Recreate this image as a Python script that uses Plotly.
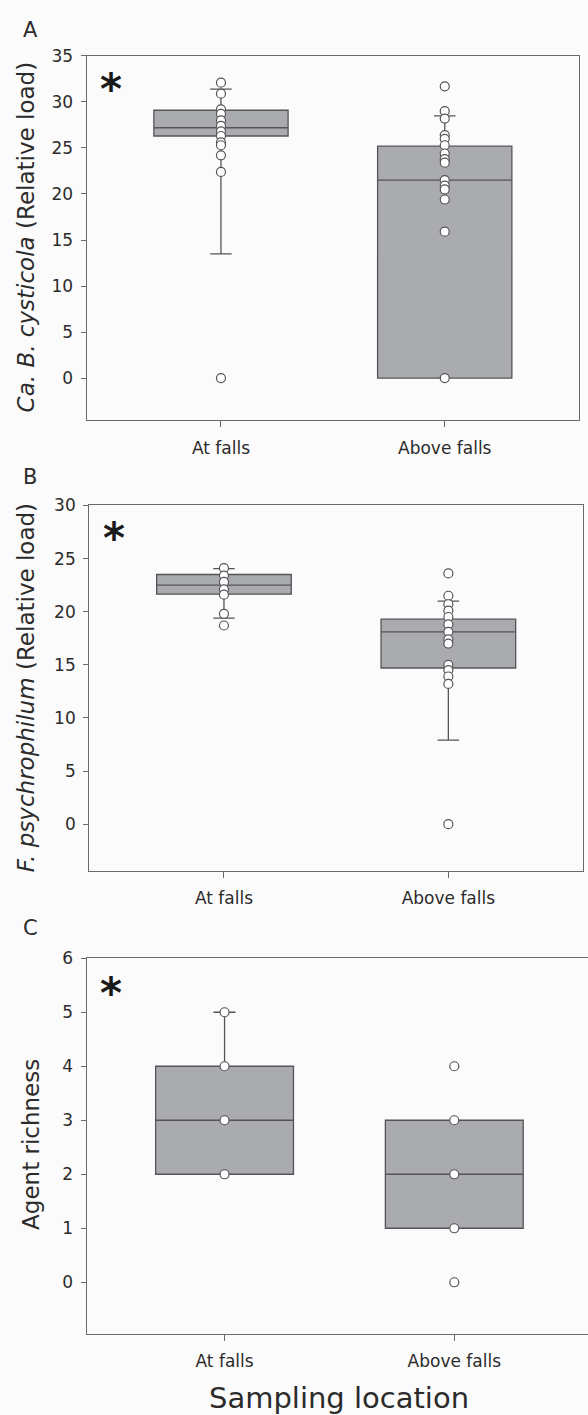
import plotly.graph_objects as go

# ---------------- data ----------------
categories = ["At falls", "Above falls"]

# Panel A: Ca. B. cysticola (relative load)
a_q1 = [26.3, 0.0]
a_median = [27.2, 21.5]
a_q3 = [29.1, 25.2]
a_lower = [13.5, 0.0]
a_upper = [31.4, 28.5]
a_pts_at = [32.1, 30.9, 29.2, 28.7, 28.0, 27.4, 26.8, 26.3, 25.6, 25.3, 24.2, 22.4, 0.0]
a_pts_above = [31.7, 29.0, 28.2, 26.4, 26.0, 25.3, 24.4, 23.8, 23.4, 21.5, 20.9,
               20.5, 19.4, 15.9, 0.0]
a_ticks = [0, 5, 10, 15, 20, 25, 30, 35]

# Panel B: F. psychrophilum (relative load)
b_q1 = [21.65, 14.7]
b_median = [22.5, 18.1]
b_q3 = [23.5, 19.3]
b_lower = [19.4, 7.9]
b_upper = [24.05, 21.0]
b_pts_at = [24.1, 23.4, 22.8, 22.1, 21.6, 19.8, 18.7]
b_pts_above = [23.6, 21.5, 20.7, 20.1, 19.5, 18.8, 18.1, 17.4, 17.0, 15.0, 14.5,
               13.9, 13.2, 0.0]
b_ticks = [0, 5, 10, 15, 20, 25, 30]

# Panel C: agent richness
c_q1 = [2, 1]
c_median = [3, 2]
c_q3 = [4, 3]
c_lower = [2, 1]
c_upper = [5, 3]
c_pts_at = [5, 4, 3, 2]
c_pts_above = [4, 3, 2, 1, 0]
c_ticks = [0, 1, 2, 3, 4, 5, 6]

# ---------------- style ----------------
W, H = 588, 1415
BG = "#fbfbfc"
BOX_FILL = "#aaabaf"
LINE = "#555559"
AXIS = "#6a6a6e"
TXT = "#2b2b2b"
FONT = "DejaVu Sans"


def px_x(p):
    return p / W


def px_y(p):
    return 1 - p / H


fig = go.Figure()

panels = [
    dict(q1=a_q1, med=a_median, q3=a_q3, lo=a_lower, hi=a_upper,
         at=a_pts_at, above=a_pts_above, xa="x", ya="y"),
    dict(q1=b_q1, med=b_median, q3=b_q3, lo=b_lower, hi=b_upper,
         at=b_pts_at, above=b_pts_above, xa="x2", ya="y2"),
    dict(q1=c_q1, med=c_median, q3=c_q3, lo=c_lower, hi=c_upper,
         at=c_pts_at, above=c_pts_above, xa="x3", ya="y3"),
]

for p in panels:
    fig.add_trace(go.Box(
        x=categories, q1=p["q1"], median=p["med"], q3=p["q3"],
        lowerfence=p["lo"], upperfence=p["hi"],
        width=0.6, whiskerwidth=0.16,
        fillcolor=BOX_FILL, line=dict(color=LINE, width=1.3),
        boxpoints=False, showlegend=False, hoverinfo="skip",
        xaxis=p["xa"], yaxis=p["ya"]))
    xs = [categories[0]] * len(p["at"]) + [categories[1]] * len(p["above"])
    ys = list(p["at"]) + list(p["above"])
    fig.add_trace(go.Scatter(
        x=xs, y=ys, mode="markers", showlegend=False, hoverinfo="skip",
        marker=dict(symbol="circle", size=9, color="white",
                    line=dict(color=LINE, width=1.2)),
        xaxis=p["xa"], yaxis=p["ya"]))


def xaxis(domain, anchor, rng):
    return dict(domain=domain, anchor=anchor, type="category",
                categoryorder="array", categoryarray=categories,
                range=rng, showline=True, linecolor=AXIS, linewidth=1.3,
                mirror=True, ticks="outside", ticklen=6, tickwidth=1.3,
                tickcolor=AXIS, showgrid=False, zeroline=False,
                ticklabelstandoff=6,
                tickfont=dict(family=FONT, size=17, color=TXT))


def yaxis(domain, anchor, rng, ticks, mirror=True):
    return dict(domain=domain, anchor=anchor, range=rng,
                tickmode="array", tickvals=ticks,
                showline=True, linecolor=AXIS, linewidth=1.3,
                mirror=mirror, ticks="outside", ticklen=5, tickwidth=1.3,
                tickcolor=AXIS, showgrid=False, zeroline=False,
                ticklabelstandoff=4,
                tickfont=dict(family=FONT, size=17, color=TXT))


annotations = []
# panel letters
for letter, yy in [("A", 20), ("B", 470), ("C", 925)]:
    annotations.append(dict(text=letter, x=px_x(30), y=px_y(yy), xref="paper",
                            yref="paper", showarrow=False, xanchor="center",
                            yanchor="middle",
                            font=dict(family=FONT, size=21, color=TXT)))
# significance asterisks
for xx, yy in [(111, 80), (114, 532), (111, 991)]:
    annotations.append(dict(text="<b>*</b>", x=px_x(xx), y=px_y(yy), xref="paper",
                            yref="paper", showarrow=False, xanchor="center",
                            yanchor="middle",
                            font=dict(family=FONT, size=42, color="#1a1a1a")))
# y titles
ytitles = [
    ("<i>Ca. B. cysticola</i> (Relative load)", 26, 229),
    ("<i>F. psychrophilum</i> (Relative load)", 26, 683),
    ("Agent richness", 31, 1143),
]
for txt, xx, yy in ytitles:
    annotations.append(dict(text=txt, x=px_x(xx), y=px_y(yy), xref="paper",
                            yref="paper", showarrow=False, xanchor="center",
                            yanchor="middle", textangle=-90,
                            font=dict(family=FONT, size=23, color=TXT)))
# x title
annotations.append(dict(text="Sampling location", x=px_x(339), y=px_y(1398),
                        xref="paper", yref="paper", showarrow=False,
                        xanchor="center", yanchor="middle",
                        font=dict(family=FONT, size=29, color=TXT)))

fig.update_layout(
    width=W, height=H, autosize=False,
    margin=dict(l=0, r=0, t=0, b=0),
    paper_bgcolor=BG, plot_bgcolor=BG,
    showlegend=False,
    xaxis=xaxis([px_x(86.7), px_x(579)], "y", [-0.6, 1.6]),
    yaxis=yaxis([px_y(413), px_y(46.3)], "x", [-4.57, 35], a_ticks),
    xaxis2=xaxis([px_x(89.3), px_x(583)], "y2", [-0.6, 1.6]),
    yaxis2=yaxis([px_y(867), px_y(499)], "x2", [-4.4, 30], b_ticks),
    xaxis3=xaxis([px_x(86.7), 1.0], "y3", [-0.6, 1.582]),
    yaxis3=yaxis([px_y(1333), px_y(955)], "x3", [-0.95, 6], c_ticks, mirror=False),
    annotations=annotations,
)

fig.write_html(
    "out.html",
    config={"displayModeBar": False},
    post_script=(
        "document.documentElement.style.margin='0';"
        "document.body.style.margin='0';"
        "document.body.style.padding='0';"
        "document.body.style.overflow='hidden';"
        "document.body.style.background='#fbfbfc';"
    ),
)
